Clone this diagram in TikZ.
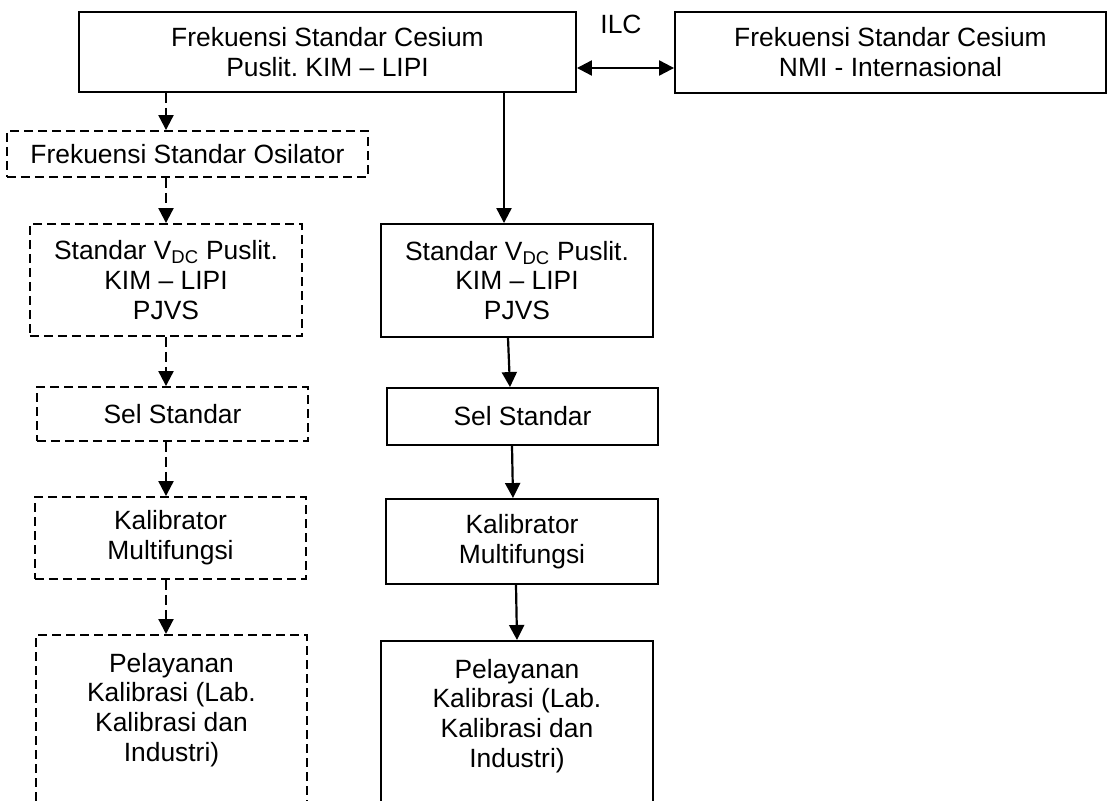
\documentclass[tikz,border=0pt]{standalone}
\usepackage{fontspec}
\setmainfont{Liberation Sans}
\usetikzlibrary{arrows.meta}
\frenchspacing

\tikzset{
	box/.style={draw, line width=1.9bp, inner sep=0pt, align=center,
		font=\fontsize{26.5}{30}\selectfont},
	dbox/.style={box, dash pattern=on 9bp off 5bp},
	link/.style={line width=2.2bp, ->},
	dlink/.style={link, dash pattern=on 10bp off 5bp},
	>={Triangle[length=15bp,width=15bp]},
}

\begin{document}
\begin{tikzpicture}[x=1bp, y=-1bp]
	\useasboundingbox (0,0) rectangle (1109,801);
	\clip (0,0) rectangle (1109,801);
	% Top row:
	\node[box, minimum width=497bp, minimum height=80bp] (top) at (327.5,52) {Frekuensi Standar Cesium\\Puslit. KIM – LIPI};
	\node[box, minimum width=431bp, minimum height=81bp] (nmi) at (890.5,52.5) {Frekuensi Standar Cesium\\NMI - Internasional};
	\node[font=\fontsize{26.5}{30}\selectfont] (ilc) at (621,24) {ILC};
	% Left column (dashed):
	\node[dbox, minimum width=361bp, minimum height=46bp] (osc) at (187.5,154) {Frekuensi Standar Osilator};
	\node[dbox, minimum width=272bp, minimum height=112bp] (vdcL) at (166,280) {Standar V\textsubscript{DC} Puslit.\\KIM – LIPI\\PJVS};
	\node[dbox, minimum width=271bp, minimum height=54bp] (selL) at (172.5,414) {Sel Standar};
	\node[dbox, minimum width=271bp, minimum height=82bp] (kalL) at (170.5,538) {Kalibrator\\Multifungsi};
	\node[dbox, minimum width=271bp, anchor=north, inner ysep=18bp, text depth=150bp] (pelL) at (171.5,634) {Pelayanan\\Kalibrasi (Lab.\\Kalibrasi dan\\Industri)};
	% Right column (solid):
	\node[box, minimum width=272bp, minimum height=113bp] (vdcR) at (517,280.5) {Standar V\textsubscript{DC} Puslit.\\KIM – LIPI\\PJVS};
	\node[box, minimum width=271bp, minimum height=57bp] (selR) at (522.5,416.5) {Sel Standar};
	\node[box, minimum width=272bp, minimum height=85bp] (kalR) at (522,541.5) {Kalibrator\\Multifungsi};
	\node[box, minimum width=272bp, anchor=north, inner ysep=18bp, text depth=150bp] (pelR) at (517,640) {Pelayanan\\Kalibrasi (Lab.\\Kalibrasi dan\\Industri)};
	% Connectors:
	\coordinate (ilcL) at ([yshift=-16bp]top.east);
	\draw[link, <->] (ilcL) -- (ilcL -| nmi.west);
	\draw[dlink] (top.south -| vdcL) -- (osc.north -| vdcL);
	\draw[dlink] (osc.south -| vdcL) -- (vdcL.north);
	\draw[dlink] (vdcL.south) -- (selL.north -| vdcL);
	\draw[dlink] (selL.south -| vdcL) -- (kalL.north -| vdcL);
	\draw[dlink] (kalL.south -| vdcL) -- (pelL.north -| vdcL);
	\coordinate (feed) at ([xshift=-13bp]vdcR.north);
	\draw[link] (top.south -| feed) -- (feed);
	\draw[link] ([xshift=-9bp]vdcR.south) -- ([xshift=-12.5bp]selR.north);
	\draw[link] ([xshift=-10.5bp]selR.south) -- ([xshift=-9bp]kalR.north);
	\draw[link] ([xshift=-6bp]kalR.south) -- (pelR.north);
\end{tikzpicture}
\end{document}
